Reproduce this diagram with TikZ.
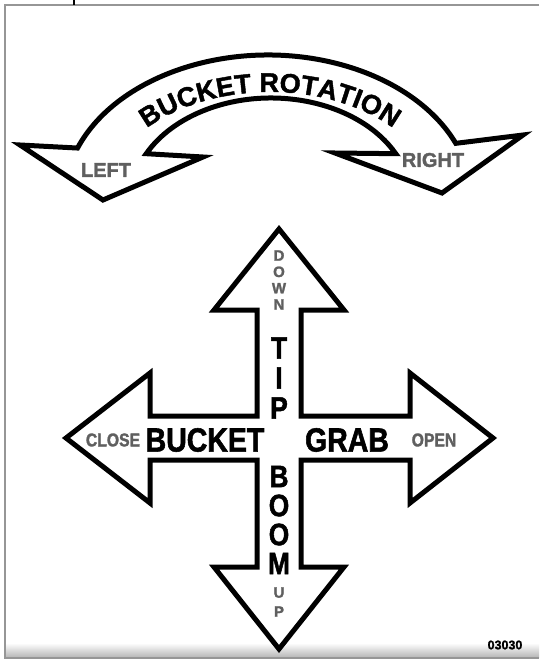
\documentclass[tikz,border=0pt]{standalone}
\usepackage{fontspec}
\setmainfont{Liberation Sans}
\newfontfamily\heavyfont[FakeBold=1.6]{Liberation Sans Bold}
\newfontfamily\condfont[FakeBold=1.6, FakeStretch=0.85]{Liberation Sans Bold}
\usetikzlibrary{decorations.text}
\definecolor{framecol}{RGB}{150,150,150}
\definecolor{hintcol}{RGB}{95,95,95}

\begin{document}
\begin{tikzpicture}[x=1pt, y=-1pt,
  sign/.style={draw=black, line width=5pt, fill=white, line join=miter},
  word/.style={inner sep=0pt, font=\condfont\fontsize{33.5}{33.5}\selectfont},
  letters/.style={align=center, inner sep=0pt, font=\condfont\fontsize{31}{#1}\selectfont},
  hint/.style={text=hintcol, inner sep=0pt, font=\condfont\fontsize{18.5}{18.5}\selectfont},
  side/.style={text=hintcol, inner sep=0pt, font=\heavyfont\fontsize{20}{20}\selectfont},
  hintletters/.style={text=hintcol, align=center, inner sep=0pt, font=\heavyfont\fontsize{15}{#1}\selectfont}
]
\useasboundingbox (0,0) rectangle (539,661);

% sheet edge
\shade[top color=white, bottom color=black!28] (6,643) rectangle (539,657);
\draw[framecol, line width=1.6pt] (539,5) -- (5,5) -- (5,658) -- (539,658);
\draw[line width=2pt] (74,0) -- (74,5);

% rotation arrow
\draw[sign] ([shift={(268,200)}]201:204 and 145)
    arc[start angle=201, end angle=337, x radius=204, y radius=145]
    -- (523,135) -- (442,193) -- (335,153)
    -- ([shift={(271,200)}]333:140 and 102)
    arc[start angle=333, end angle=207, x radius=140, y radius=102]
    -- (203,157) -- (103,200) -- (20,145) -- cycle;
\path[decorate, decoration={text along path, text align=center,
      text={|\heavyfont\fontsize{27}{27}\selectfont|BUCKET ROTATION}}]
    ([shift={(270,200)}]200:165 and 108)
    arc[start angle=200, end angle=340, x radius=165, y radius=108];

\node[side] (left)  at (106,170) {LEFT};
\node[side] (right) at (433,160) {RIGHT};

% four-way arrow
\draw[sign] (257,416) -- (257,310) -- (214,310) -- (279,229) -- (344,310)
    -- (301,310) -- (301,416) -- (410,416) -- (410,373) -- (493,438)
    -- (410,503) -- (410,460) -- (301,460) -- (301,567) -- (344,567)
    -- (279,649) -- (214,567) -- (257,567) -- (257,460) -- (150,460)
    -- (150,503) -- (66,438) -- (150,373) -- (150,416) -- cycle;

\node[word] (bucket) at (205,440) {BUCKET};
\node[word] (grab)   at (347,440) {GRAB};
\node[hint] (close)  at (113,440) {CLOSE};
\node[hint] (open)   at (434,440) {OPEN};

\node[letters=30]     (tip)  at (279,378) {T\\I\\P};
\node[letters=29]     (boom) at (279,520) {B\\O\\O\\M};
\node[hintletters=16.3] (down) at (279,280) {D\\O\\W\\N};
\node[hintletters=19]   (up)   at (279,602) {U\\P};

\node[inner sep=0pt, font=\heavyfont\fontsize{12.5}{12.5}\selectfont] (code) at (505,645) {03030};

\end{tikzpicture}
\end{document}
